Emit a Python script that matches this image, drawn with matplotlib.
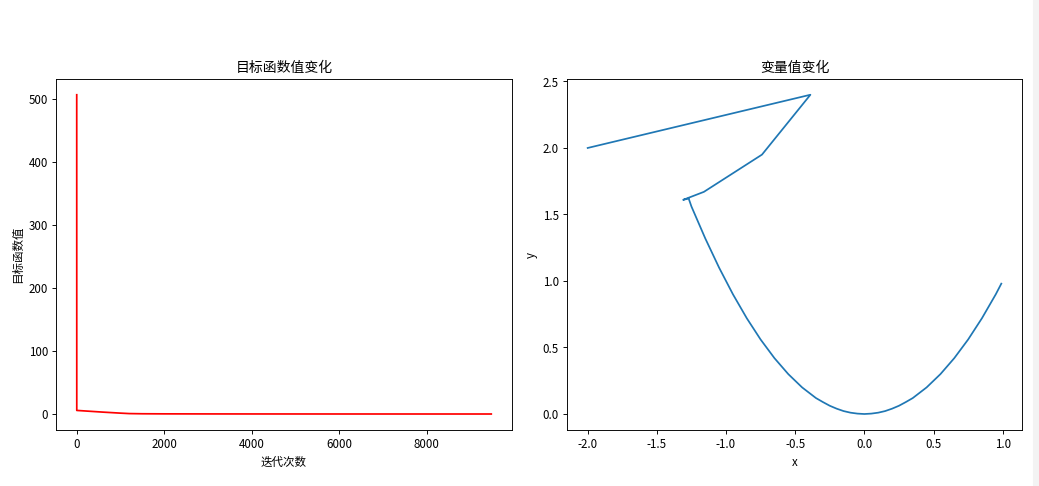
import matplotlib
matplotlib.use('Agg')
import matplotlib.pyplot as plt
from matplotlib.patches import Rectangle

plt.rcParams['font.family'] = ['Noto Sans CJK SC', 'DejaVu Sans']
plt.rcParams['axes.unicode_minus'] = False

# objective value per iteration
iters = [0, 1, 200, 400, 600, 800, 1000, 1200, 1500, 2000, 3000, 4000, 6000, 8000, 9470]
obj_vals = [506, 5.7, 4.8, 3.9, 3.0, 2.2, 1.4, 0.7, 0.4, 0.25, 0.15, 0.1, 0.05, 0.03, 0.02]

# variable path (x, y)
path_x = [-2.0, -0.39, -0.74, -1.16, -1.31, -1.27,
          -1.25, -1.2, -1.15, -1.1, -1.05, -1.0, -0.95, -0.9, -0.85, -0.8, -0.75, -0.7,
          -0.65, -0.6, -0.55, -0.5, -0.45, -0.4, -0.35, -0.3, -0.25, -0.2, -0.15, -0.1,
          -0.05, 0.0, 0.05, 0.1, 0.15, 0.2, 0.25, 0.3, 0.35, 0.4, 0.45, 0.5, 0.55, 0.6,
          0.65, 0.7, 0.75, 0.8, 0.85, 0.9, 0.95, 0.99]
path_y = [2.0, 2.4, 1.95, 1.67, 1.61, 1.62,
          1.56, 1.44, 1.32, 1.21, 1.10, 1.0, 0.90, 0.81, 0.72, 0.64, 0.56, 0.49,
          0.42, 0.36, 0.30, 0.25, 0.20, 0.16, 0.12, 0.09, 0.062, 0.04, 0.022, 0.01,
          0.003, 0.0, 0.003, 0.01, 0.022, 0.04, 0.062, 0.09, 0.12, 0.16, 0.20, 0.25, 0.30, 0.36,
          0.42, 0.49, 0.56, 0.64, 0.72, 0.81, 0.90, 0.98]

fig = plt.figure(figsize=(12.5, 5.85), dpi=83.12)
W, H = 1039, 486
ax1 = fig.add_axes([56 / W, 1 - 430 / H, (512 - 56) / W, (430 - 79) / H])
ax2 = fig.add_axes([567 / W, 1 - 430 / H, (1022 - 567) / W, (430 - 79) / H])

ax1.plot(iters, obj_vals, color='red')
ax1.set_title('目标函数值变化')
ax1.set_xlabel('迭代次数')
ax1.set_ylabel('目标函数值')

ax2.plot(path_x, path_y)
ax2.set_title('变量值变化')
ax2.set_xlabel('x')
ax2.set_ylabel('y')

# light scrollbar strip at the right edge
fig.patches.append(Rectangle((1033 / W, 0), 6 / W, 1, transform=fig.transFigure,
                             color='#f3f3f3', zorder=-1))

plt.savefig('out.png', dpi=83.12)
plt.close()
